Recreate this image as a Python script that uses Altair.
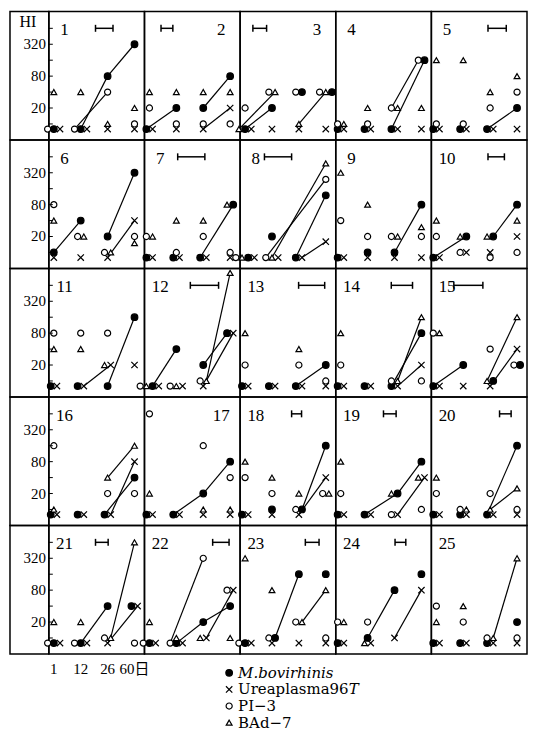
import altair as alt
import pandas as pd

# ---------------- data ----------------
DAYS = [1, 12, 26, 60]
DAY_LABELS = ["1", "12", "26", "60日"]
SERIES = ["M.bovirhinis", "Ureaplasma96T", "PI-3", "BAd-7"]
B = 8      # below detection (<10)
N = None   # not shown

# HI titres per panel (1..25), days 1, 12, 26, 60
MB = [
    [B, B, 80, 320], [B, 20, 20, 80], [B, 20, 40, 40], [B, B, B, 160], [B, B, B, 20],
    [10, 40, 20, 320], [B, B, B, 80], [B, 20, B, 120], [B, 10, 10, 80], [B, 20, 20, 80],
    [B, B, B, 160], [B, 40, 20, 80], [B, B, B, 20], [B, B, B, 80], [B, 20, 10, 20],
    [B, B, B, 40], [B, B, 20, 80], [B, 10, 10, 160], [B, B, 20, 80], [B, B, B, 160],
    [B, B, 40, 40], [B, B, 20, 40], [B, 10, 160, 160], [B, 10, 80, 160], [B, B, B, 20],
]
UR = [
    [B, B, B, B], [B, B, B, 20], [B, B, B, B], [B, B, B, B], [B, B, B, B],
    [B, B, B, 40], [B, B, B, B], [B, B, B, 16], [B, B, B, B], [B, 10, 10, 20],
    [B, B, 20, 20], [B, B, B, 80], [B, B, B, B], [B, B, B, 20], [B, B, B, 40],
    [B, B, B, 80], [B, B, B, B], [B, B, B, 40], [B, B, B, 40], [B, B, B, B],
    [B, B, B, 40], [B, B, 10, 80], [B, B, B, B], [B, B, 10, 80], [B, B, B, B],
]
PI = [
    [B, B, 40, 10], [20, 10, 10, 10], [20, 40, 40, 40], [10, 10, 20, 160], [10, 10, 20, 40],
    [80, 20, 10, 20], [20, 10, 20, 10], [B, B, N, 240], [40, 20, 20, 20], [20, 10, B, 10],
    [80, 80, 80, N], [B, B, 10, N], [20, N, 20, 10], [20, N, 10, 10], [80, N, 40, 20],
    [160, N, 20, 20], [640, N, 160, 40], [40, 20, 10, 20], [20, N, B, 10], [20, 10, 20, 10],
    [B, B, 10, B], [B, B, 320, 80], [B, 10, 20, 10], [20, 20, N, N], [40, 20, 10, 10],
]
BA = [
    [40, 40, 10, 20], [40, 40, 40, 40], [B, 40, 10, 40], [10, 20, 20, 20], [160, 160, 40, 80],
    [40, 20, 10, 15], [20, 40, 40, 80], [B, B, N, 480], [320, 80, 20, 30], [40, 20, 20, 40],
    [40, 40, 20, N], [B, B, 10, 1100], [80, N, 40, N], [80, N, 10, 160], [80, N, 10, 160],
    [10, N, 40, 160], [20, N, 10, 10], [80, 40, 20, 20], [80, N, 20, 40], [40, 10, 10, 25],
    [20, 20, 10, 640], [20, 10, 10, 10], [320, 80, 20, 80], [20, B, N, N], [20, 40, 10, 320],
]

# connecting segments: (panel, series, from day index, to day index)
LINES = [
    (1, "MB", 1, 2), (1, "MB", 2, 3), (1, "PI", 1, 2),
    (2, "MB", 0, 1), (2, "MB", 2, 3), (2, "UR", 2, 3),
    (3, "MB", 0, 1), (3, "BA", 0, 1), (3, "BA", 2, 3),
    (4, "PI", 2, 3), (4, "MB", 2, 3),
    (5, "MB", 2, 3),
    (6, "MB", 0, 1), (6, "MB", 2, 3), (6, "UR", 2, 3),
    (7, "MB", 2, 3),
    (8, "PI", 1, 3), (8, "BA", 1, 3), (8, "MB", 2, 3), (8, "UR", 2, 3),
    (9, "MB", 2, 3),
    (10, "MB", 0, 1), (10, "MB", 2, 3),
    (11, "UR", 1, 2), (11, "MB", 2, 3),
    (12, "MB", 0, 1), (12, "MB", 2, 3), (12, "BA", 2, 3), (12, "UR", 2, 3),
    (13, "MB", 2, 3),
    (14, "BA", 2, 3), (14, "MB", 2, 3), (14, "UR", 2, 3),
    (15, "MB", 0, 1), (15, "BA", 2, 3), (15, "UR", 2, 3),
    (16, "BA", 2, 3), (16, "MB", 2, 3), (16, "UR", 2, 3),
    (17, "MB", 1, 2), (17, "MB", 2, 3),
    (18, "MB", 2, 3), (18, "UR", 2, 3),
    (19, "MB", 1, 2), (19, "MB", 2, 3), (19, "UR", 2, 3),
    (20, "MB", 2, 3), (20, "BA", 2, 3),
    (21, "MB", 1, 2), (21, "BA", 2, 3), (21, "UR", 2, 3),
    (22, "PI", 1, 2), (22, "MB", 1, 2), (22, "MB", 2, 3), (22, "UR", 2, 3),
    (23, "MB", 1, 2), (23, "BA", 2, 3),
    (24, "MB", 1, 2), (24, "UR", 2, 3),
    (25, "BA", 2, 3),
]

# interval bars at the top of panels: (panel, start, end) on the time axis
BARS = [
    (1, 1.55, 2.20), (2, 0.43, 0.87), (3, 0.29, 0.80), (5, 1.92, 2.60),
    (7, 1.05, 2.06), (8, 0.72, 1.73), (10, 1.92, 2.53), (12, 1.52, 2.57),
    (13, 1.99, 2.96), (14, 1.88, 2.67), (15, 0.65, 1.73), (18, 1.73, 2.10),
    (19, 1.59, 2.06), (20, 2.35, 2.78), (21, 1.55, 2.02), (22, 2.35, 2.96),
    (23, 2.24, 2.75), (24, 2.02, 2.42),
]
BAR_LEVEL = 640

NUM_RIGHT = [2, 3, 17]          # panel numbers drawn at the right
YTICK_VALUES = [10, 20, 40, 80, 160, 320, 640]
YLABELS = [20, 80, 320]
LEGEND_TEXT = ["M.bovirhinis", "Ureaplasma96", "PI−3", "BAd−7"]

# ---------------- build tables ----------------
CODE = {"MB": SERIES[0], "UR": SERIES[1], "PI": SERIES[2], "BA": SERIES[3]}
OFFSET_ORDER = ["PI-3", "BAd-7", "M.bovirhinis", "Ureaplasma96T"]
SLOT = 0.23

rows = []
for p in range(25):
    for name, arr in zip(SERIES, [MB, UR, PI, BA]):
        for d in range(4):
            v = arr[p][d]
            if v is None:
                continue
            rows.append(dict(panel=p + 1, series=name, di=d, hi=v))
pts = pd.DataFrame(rows)
pts["rank"] = pts["series"].map({s: i for i, s in enumerate(OFFSET_ORDER)})
pts = pts.sort_values(["panel", "di", "hi", "rank"]).reset_index(drop=True)
grp = pts.groupby(["panel", "di", "hi"])
pts["k"] = grp.cumcount()
pts["n"] = grp["series"].transform("count")
pts["t"] = pts["di"] + (pts["k"] - (pts["n"] - 1) / 2) * SLOT
pts["kind"] = "pt"

line_rows = []
for j, (p, s, i0, i1) in enumerate(LINES):
    for i in (i0, i1):
        r = pts[(pts.panel == p) & (pts.series == CODE[s]) & (pts.di == i)].iloc[0]
        line_rows.append(dict(panel=p, kind="line", seg=j, t=r.t, hi=r.hi))

bar_rows, cap_rows = [], []
for p, a, b in BARS:
    bar_rows.append(dict(panel=p, kind="bar", t=a, t2=b))
    cap_rows.append(dict(panel=p, kind="cap", t=a))
    cap_rows.append(dict(panel=p, kind="cap", t=b))

num_rows = [dict(panel=p, kind="num", t=(2.67 if p in NUM_RIGHT else 0.40), label=str(p))
            for p in range(1, 26)]
ytick_rows = [dict(panel=p, kind="ytick", hi=v) for p in (1, 6, 11, 16, 21) for v in YTICK_VALUES]

df = pd.concat([pts[["panel", "kind", "series", "t", "hi"]], pd.DataFrame(line_rows),
                pd.DataFrame(bar_rows), pd.DataFrame(cap_rows), pd.DataFrame(num_rows),
                pd.DataFrame(ytick_rows)], ignore_index=True)

# ---------------- layout constants ----------------
PW, PH, LW = 96, 129, 39          # panel width/height, label column width
PXU = 27.0                        # pixels per time unit
X0 = -0.185
X1 = X0 + PW / PXU
YTOP = 5 * 2 ** (PH / 16)         # 16 px per doubling

XSC = alt.Scale(domain=[X0, X1], nice=False, zero=False)
YSC = alt.Scale(type="log", base=2, domain=[5, YTOP], nice=False)
XPATH = "M-1,-1L1,1M-1,1L1,-1"
SHAPE = alt.Shape("series:N", scale=alt.Scale(domain=SERIES, range=["circle", XPATH, "circle", "triangle-up"]), legend=None)
FILL = alt.Fill("series:N", scale=alt.Scale(domain=SERIES, range=["black", "transparent", "white", "white"]), legend=None)
SIZE = alt.Size("series:N", scale=alt.Scale(domain=SERIES, range=[44, 34, 38, 50]), legend=None)
SERIF = "Liberation Serif, Noto Sans CJK JP"

X = alt.X("t:Q", scale=XSC, axis=None)
Y = alt.Y("hi:Q", scale=YSC, axis=None)
YBAR = alt.Y(datum=BAR_LEVEL, scale=YSC, axis=None)


def sel(kind, p):
    return (alt.datum.kind == kind) & (alt.datum.panel == p)


def panel_chart(p):
    base = alt.Chart(df)
    layers = [
        base.mark_line(color="black", strokeWidth=1.2).encode(x=X, y=Y, detail="seg:N").transform_filter(sel("line", p)),
        base.mark_point(filled=False, color="black", strokeWidth=1.2, opacity=1).encode(
            x=X, y=Y, shape=SHAPE, fill=FILL, size=SIZE).transform_filter(sel("pt", p)),
        base.mark_text(font=SERIF, fontSize=17, color="black", baseline="middle", align="center").encode(
            x=X, y=alt.value(19), text="label:N").transform_filter(sel("num", p)),
    ]
    if any(b[0] == p for b in BARS):
        layers.append(base.mark_rule(color="black", strokeWidth=1.5).encode(
            x=X, x2="t2:Q", y=YBAR).transform_filter(sel("bar", p)))
        layers.append(base.mark_point(shape="M0,-1L0,1", size=49, color="black", strokeWidth=1.5, opacity=1).encode(
            x=X, y=YBAR).transform_filter(sel("cap", p)))
    if p in (1, 6, 11, 16, 21):
        layers.append(base.mark_rule(color="black", strokeWidth=1).encode(
            x=alt.value(0), x2=alt.value(4), y=Y).transform_filter(sel("ytick", p)))
    return alt.layer(*layers).properties(width=PW, height=PH)


# ---------------- label column ----------------
lab_rows = [dict(kind="tl", hi=v, label=str(v)) for v in YLABELS]
lab_rows.append(dict(kind="HI", hi=640, label="HI"))
lab_df = pd.DataFrame(lab_rows)


def label_chart(first):
    base = alt.Chart(lab_df)
    layers = [base.mark_text(font=SERIF, fontSize=15, align="right", baseline="middle", color="black").encode(
        x=alt.value(36), y=Y, text="label:N").transform_filter(alt.datum.kind == "tl")]
    if first:
        layers.append(base.mark_text(font=SERIF, fontSize=16, align="center", baseline="middle", color="black").encode(
            x=alt.value(18), y=alt.value(11), text="label:N").transform_filter(alt.datum.kind == "HI"))
    return alt.layer(*layers).properties(width=LW, height=PH)


cells = []
for r in range(5):
    cells.append(label_chart(r == 0))
    cells.extend(panel_chart(5 * r + c + 1) for c in range(5))

grid = alt.concat(*cells, columns=6, spacing=0, bounds="flush", align="each")

# ---------------- footer: day labels + legend ----------------
FW = LW + 5 * PW
FX0 = X0 - LW / PXU
FX = alt.X("t:Q", scale=alt.Scale(domain=[FX0, FX0 + FW / PXU], nice=False, zero=False), axis=None)
day_df = pd.DataFrame({"t": list(range(4)), "label": DAY_LABELS})
days = alt.Chart(day_df).mark_text(font=SERIF, fontSize=15, baseline="middle", align="center", color="black").encode(
    x=FX, y=alt.value(13), text="label:N")

leg_df = pd.DataFrame({"series": SERIES, "label": LEGEND_TEXT, "italic": [1, 0, 0, 0]})
LY = alt.Y("series:N", scale=alt.Scale(type="point", domain=SERIES, range=[17, 67], padding=0), axis=None)
leg_pts = alt.Chart(leg_df).mark_point(filled=False, color="black", strokeWidth=1.2, opacity=1).encode(
    x=alt.value(220), y=LY, shape=SHAPE, fill=FILL, size=SIZE)
leg_txt = alt.Chart(leg_df).mark_text(font="DejaVu Serif", fontSize=15, align="left", baseline="middle", color="black").encode(
    x=alt.value(229), y=LY, text="label:N").transform_filter(alt.datum.italic == 0)
leg_it = alt.Chart(leg_df).mark_text(font="DejaVu Serif", fontSize=15, fontStyle="italic", align="left", baseline="middle", color="black").encode(
    x=alt.value(229), y=LY, text="label:N").transform_filter(alt.datum.italic == 1)
leg_T = alt.Chart(leg_df).mark_text(font="DejaVu Serif", fontSize=15, fontStyle="italic", align="left", baseline="middle", color="black").encode(
    x=alt.value(340), y=LY, text=alt.value("T")).transform_filter(alt.datum.series == "Ureaplasma96T")

footer = alt.layer(days, leg_pts, leg_txt, leg_it, leg_T).properties(
    width=FW, height=74, view=alt.ViewBackground(stroke="transparent"))

chart = alt.vconcat(grid, footer, spacing=0).properties(
    padding={"left": 1, "top": 1, "right": 0, "bottom": 0}
).configure_view(stroke="black", strokeWidth=1.5).configure_concat(spacing=0)

chart.save("out.html", embed_options={"renderer": "svg", "actions": False})
